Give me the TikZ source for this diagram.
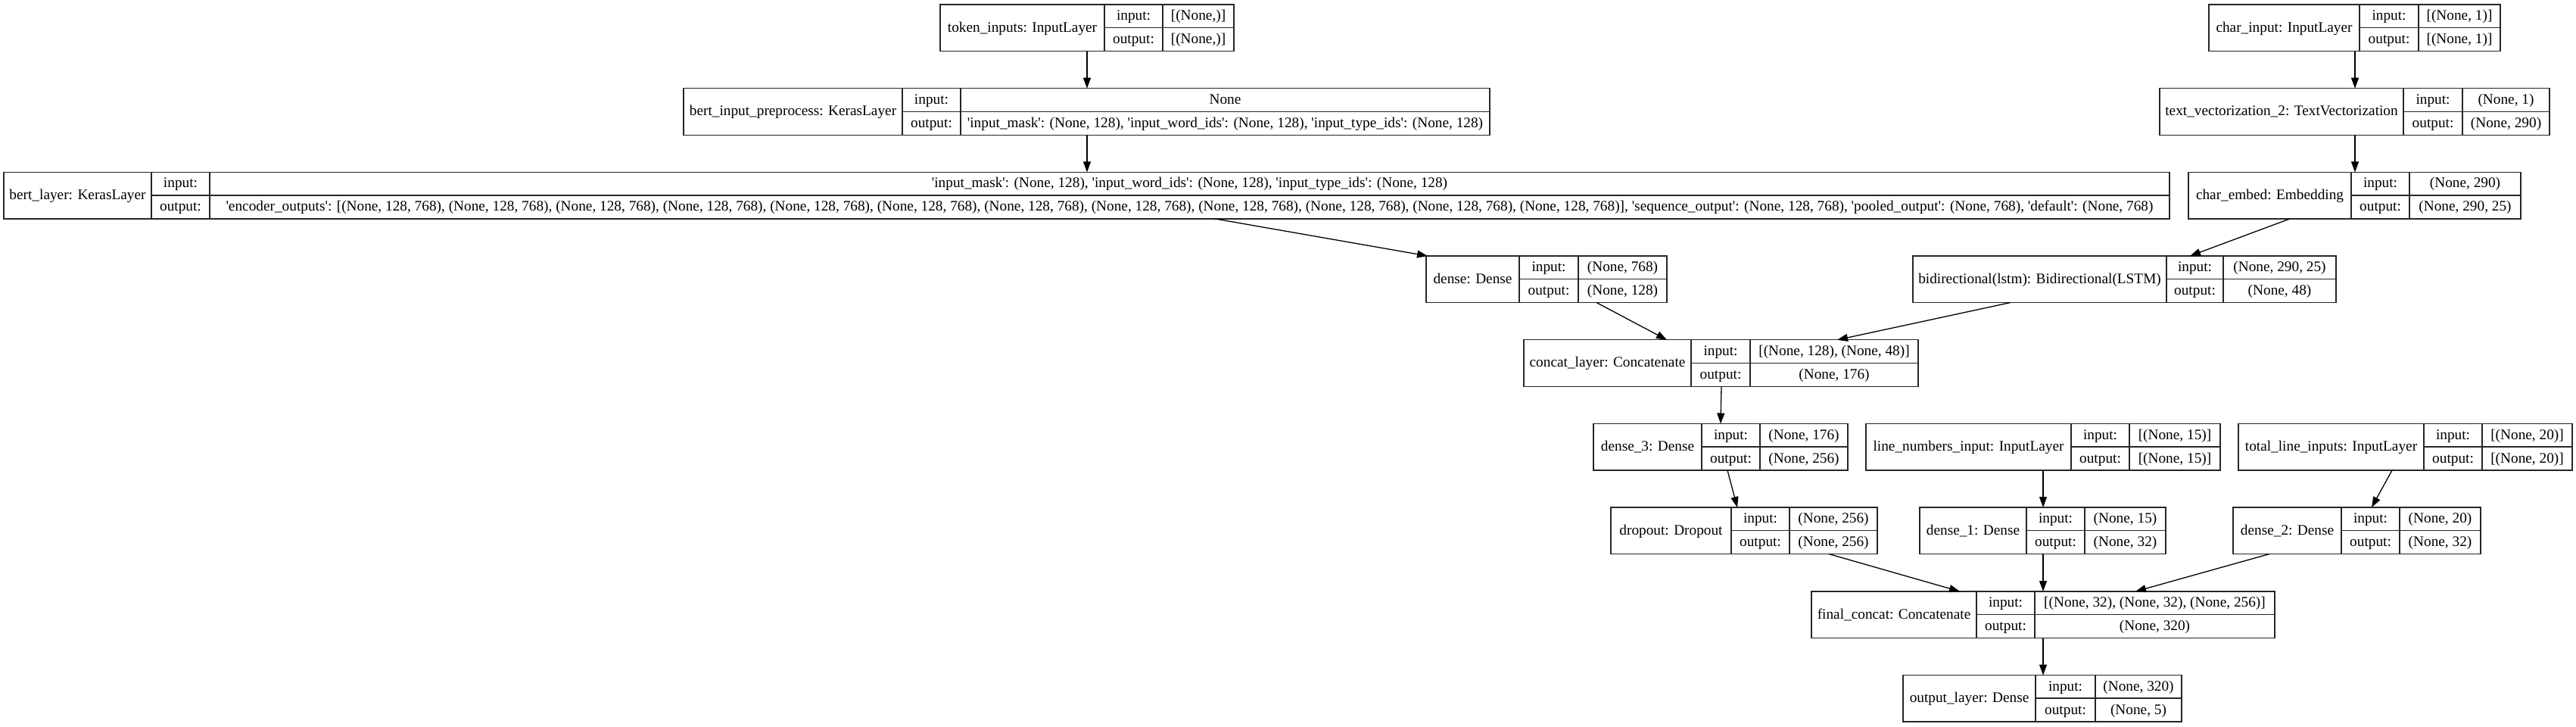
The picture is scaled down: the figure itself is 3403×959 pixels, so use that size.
\documentclass[tikz,border=0pt]{standalone}
\usepackage{fontspec}
\usepackage{graphicx}
\setmainfont{Liberation Serif}
\usetikzlibrary{fit,arrows.meta}
\newsavebox\fitbox
\newcommand\fitto[2]{\sbox\fitbox{#2}\pgfmathsetlengthmacro\fitw{#1}\ifdim\wd\fitbox>\fitw\relax\resizebox{\fitw}{\height}{\usebox\fitbox}\else\usebox\fitbox\fi}
\newcommand\q{\textquotesingle}
\tikzset{
 kbox/.style={draw=black!85, line width=0.65pt, inner sep=0pt, outer sep=0pt},
 kline/.style={draw=black!85, line width=0.65pt},
 ktxt/.style={inner sep=0pt, text height=1.65ex, text depth=0.5ex, font=\fontsize{9.65pt}{11pt}\selectfont},
 kedge/.style={draw=black, line width=0.65pt, -{Triangle[length=7pt,width=5pt]}},
}
\newcommand\klayer[9]{%
 \node[kbox, fit={(#2,#6) (#5,#6+61.5)}] (#1) {};
 \draw[kline] (#3,#6) -- (#3,#6+61.5) (#4,#6) -- (#4,#6+61.5) (#3,#6+30.5) -- (#5,#6+30.5);
 \node[ktxt] (#1-l) at ({(#2+#3)/2},#6+30.75) {\fitto{(#3-#2-10)*0.5pt}{#7}};
 \node[ktxt] (#1-i) at ({(#3+#4)/2},#6+15.25) {input:};
 \node[ktxt] (#1-o) at ({(#3+#4)/2},#6+46.25) {output:};
 \node[ktxt] (#1-iv) at ({(#4+#5)/2},#6+15.25) {\fitto{(#5-#4-10)*0.5pt}{#8}};
 \node[ktxt] (#1-ov) at ({(#4+#5)/2},#6+46.25) {\fitto{(#5-#4-10)*0.5pt}{#9}};
}
\newcommand\kconn[6]{\draw[kedge] ([xshift={(#3-#2)*0.5pt}]#1.south west) -- ([xshift={(#6-#5)*0.5pt}]#4.north west);}
\begin{document}
\begin{tikzpicture}[x=0.5pt,y=-0.5pt]
\fill[white] (0,0) rectangle (3403,959);
\useasboundingbox (0,0) rectangle (3403,959);
\klayer{tok}{1242}{1459}{1536}{1630}{6}{token\_inputs: InputLayer}{[(None,)]}{[(None,)]}
\klayer{bpre}{903}{1192}{1269}{1968}{116.7}{bert\_input\_preprocess: KerasLayer}{None}{\q input\_mask\q: (None, 128), \q input\_word\_ids\q: (None, 128), \q input\_type\_ids\q: (None, 128)}
\klayer{bl}{5}{200}{277}{2866}{227.4}{bert\_layer: KerasLayer}{\q input\_mask\q: (None, 128), \q input\_word\_ids\q: (None, 128), \q input\_type\_ids\q: (None, 128)}{\q encoder\_outputs\q: [(None, 128, 768), (None, 128, 768), (None, 128, 768), (None, 128, 768), (None, 128, 768), (None, 128, 768), (None, 128, 768), (None, 128, 768), (None, 128, 768), (None, 128, 768), (None, 128, 768), (None, 128, 768)], \q sequence\_output\q: (None, 128, 768), \q pooled\_output\q: (None, 768), \q default\q: (None, 768)}
\klayer{ci}{2918}{3117}{3195}{3303}{6}{char\_input: InputLayer}{[(None, 1)]}{[(None, 1)]}
\klayer{tv}{2853}{3175}{3253}{3368}{116.7}{text\_vectorization\_2: TextVectorization}{(None, 1)}{(None, 290)}
\klayer{ce}{2891}{3106}{3183}{3330}{227.4}{char\_embed: Embedding}{(None, 290)}{(None, 290, 25)}
\klayer{dense}{1884}{2007}{2085}{2202}{338}{dense: Dense}{(None, 768)}{(None, 128)}
\klayer{bi}{2527}{2862}{2937}{3086}{338}{bidirectional(lstm): Bidirectional(LSTM)}{(None, 290, 25)}{(None, 48)}
\klayer{cl}{2013}{2234}{2312}{2534}{448.8}{concat\_layer: Concatenate}{[(None, 128), (None, 48)]}{(None, 176)}
\klayer{dthree}{2105}{2248}{2325}{2441}{559.5}{dense\_3: Dense}{(None, 176)}{(None, 256)}
\klayer{ln}{2465}{2736}{2813}{2933}{559.5}{line\_numbers\_input: InputLayer}{[(None, 15)]}{[(None, 15)]}
\klayer{tl}{2957}{3202}{3279}{3398}{559.5}{total\_line\_inputs: InputLayer}{[(None, 20)]}{[(None, 20)]}
\klayer{dp}{2128}{2287}{2364}{2480}{670}{dropout: Dropout}{(None, 256)}{(None, 256)}
\klayer{done}{2536}{2677}{2754}{2861}{670}{dense\_1: Dense}{(None, 15)}{(None, 32)}
\klayer{dtwo}{2950}{3093}{3170}{3277}{670}{dense\_2: Dense}{(None, 20)}{(None, 32)}
\klayer{fc}{2393}{2611}{2688}{3005}{781}{final\_concat: Concatenate}{[(None, 32), (None, 32), (None, 256)]}{(None, 320)}
\klayer{ol}{2514}{2689}{2768}{2882}{891.6}{output\_layer: Dense}{(None, 320)}{(None, 5)}
\kconn{tok}{1242}{1436}{bpre}{903}{1436}
\kconn{bpre}{903}{1436}{bl}{5}{1436}
\kconn{bl}{5}{1605}{dense}{1884}{1886}
\kconn{ci}{2918}{3111}{tv}{2853}{3111}
\kconn{tv}{2853}{3111}{ce}{2891}{3111}
\kconn{ce}{2891}{3025}{bi}{2527}{2893}
\kconn{dense}{1884}{2109}{cl}{2013}{2202}
\kconn{bi}{2527}{2656}{cl}{2013}{2427}
\kconn{cl}{2013}{2274}{dthree}{2105}{2273}
\kconn{dthree}{2105}{2282}{dp}{2128}{2295}
\kconn{ln}{2465}{2699}{done}{2536}{2699}
\kconn{tl}{2957}{3160}{dtwo}{2950}{3133}
\kconn{dp}{2128}{2416}{fc}{2393}{2589}
\kconn{done}{2536}{2699}{fc}{2393}{2699}
\kconn{dtwo}{2950}{2998}{fc}{2393}{2821}
\kconn{fc}{2393}{2699}{ol}{2514}{2699}
\end{tikzpicture}
\end{document}
